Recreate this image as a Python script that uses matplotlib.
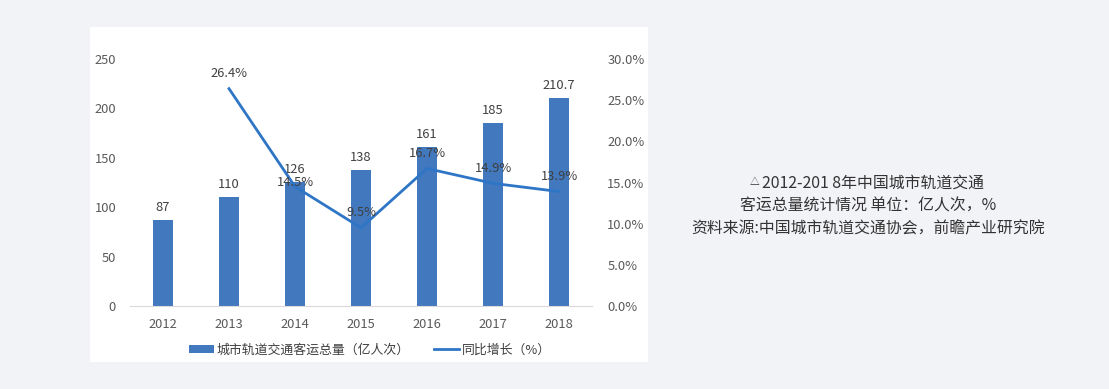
import matplotlib
matplotlib.use("Agg")
import matplotlib.pyplot as plt
from matplotlib.patches import Rectangle
from matplotlib.lines import Line2D
from matplotlib.patches import Patch

plt.rcParams['font.family'] = ['Noto Sans CJK SC', 'DejaVu Sans']

years = ['2012', '2013', '2014', '2015', '2016', '2017', '2018']
volume = [87, 110, 126, 138, 161, 185, 210.7]
volume_labels = ['87', '110', '126', '138', '161', '185', '210.7']
growth_years = [1, 2, 3, 4, 5, 6]
growth = [26.4, 14.5, 9.5, 16.7, 14.9, 13.9]
growth_labels = ['26.4%', '14.5%', '9.5%', '16.7%', '14.9%', '13.9%']
left_ticks = [0, 50, 100, 150, 200, 250]
right_ticks = [0, 5, 10, 15, 20, 25, 30]

bar_color = '#4178be'
line_color = '#2e75c6'
text_color = '#404040'
tick_color = '#595959'

W, H = 1109, 389
fig = plt.figure(figsize=(W / 100, H / 100), dpi=100)
fig.patch.set_facecolor('#f2f3f7')

# white panel behind the chart
panel = Rectangle((90 / W, 1 - 362 / H), (648 - 90) / W, (362 - 27) / H,
                  transform=fig.transFigure, facecolor='white',
                  edgecolor='none', zorder=-10)
fig.patches.append(panel)

ax = fig.add_axes([130 / W, 1 - 306 / H, (592 - 130) / W, (306 - 59) / H])
ax.set_facecolor('none')
x = list(range(len(years)))
ax.bar(x, volume, width=0.3, color=bar_color, zorder=2)
for xi, v, lab in zip(x, volume, volume_labels):
    ax.annotate(lab, (xi, v), xytext=(0, 9), textcoords='offset points',
                ha='center', va='center', fontsize=9.3, color=text_color)
ax.set_xlim(-0.5, 6.5)
ax.set_ylim(0, 250)
ax.set_yticks(left_ticks)
ax.set_xticks(x)
ax.set_xticklabels(years)
for s in ['top', 'right', 'left']:
    ax.spines[s].set_visible(False)
ax.spines['bottom'].set_color('#d9d9d9')
ax.tick_params(axis='both', length=0, labelsize=9.3, colors=tick_color)
ax.tick_params(axis='y', pad=10)
ax.tick_params(axis='x', pad=9)

ax2 = ax.twinx()
ax2.plot(growth_years, growth, color=line_color, lw=2, zorder=3)
offsets = [11, 3, 11, 11, 11, 11]
for xi, g, lab, off in zip(growth_years, growth, growth_labels, offsets):
    ax2.annotate(lab, (xi, g), xytext=(0, off), textcoords='offset points',
                 ha='center', va='center', fontsize=9.3, color=text_color)
ax2.set_ylim(0, 30)
ax2.set_yticks(right_ticks)
ax2.set_yticklabels([f'{t:.1f}%' for t in right_ticks])
for s in ['top', 'right', 'left', 'bottom']:
    ax2.spines[s].set_visible(False)
ax2.tick_params(axis='y', length=0, labelsize=9.3, colors=tick_color, pad=11)

handles = [Patch(facecolor=bar_color, edgecolor='none'),
           Line2D([0], [0], color=line_color, lw=2)]
fig.legend(handles, ['城市轨道交通客运总量（亿人次）', '同比增长（%）'],
           loc='center', bbox_to_anchor=(370 / W, 1 - 350 / H), ncol=2,
           frameon=False, fontsize=9.3, handlelength=1.9, handleheight=0.5,
           columnspacing=1.9, handletextpad=0.2, labelcolor=text_color)

caption = ['2012-201 8年中国城市轨道交通',
           '客运总量统计情况 单位：亿人次，%',
           '资料来源:中国城市轨道交通协会，前瞻产业研究院']
for i, line in enumerate(caption):
    fig.text((868 + (5 if i == 0 else 0)) / W, 1 - (183 + 23 * i) / H, line,
             ha='center', va='center', fontsize=11.4, color='#333333')
fig.text(755 / W, 1 - 182 / H, '△', ha='center', va='center',
         fontsize=7, color='#333333')

fig.savefig('out.png', dpi=100, facecolor=fig.get_facecolor())
